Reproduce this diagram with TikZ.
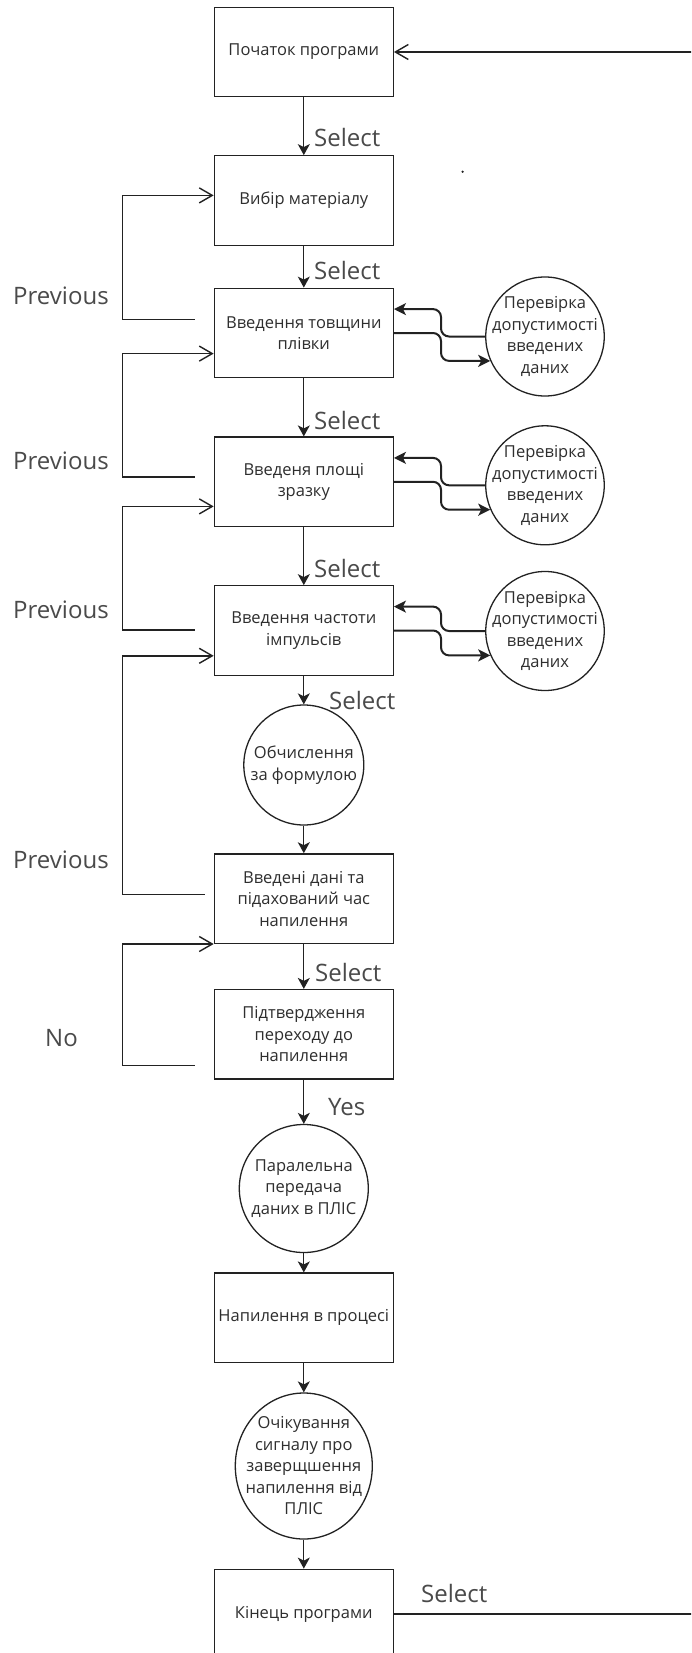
\documentclass[tikz,border=0pt]{standalone}
\usepackage{fontspec}
\setmainfont{Open Sans}
\usetikzlibrary{arrows.meta,calc,shapes.geometric}
\definecolor{ln}{HTML}{222222}
\definecolor{tx}{HTML}{2E2E2E}
\definecolor{lb}{HTML}{4A4A4A}
\begin{document}
\begin{tikzpicture}[x=1pt,y=-1pt,
  box/.style={draw=ln, line width=1.3pt, minimum width=179pt, minimum height=89.5pt,
    inner sep=0pt, align=center, text=tx, font=\fontsize{16.5}{21.5}\selectfont},
  circ/.style={draw=ln, line width=1.3pt, ellipse, inner sep=0pt},
  ctext/.style={align=center, text=tx, font=\fontsize{16.5}{21.5}\selectfont, inner sep=0pt},
  lab/.style={anchor=west, inner sep=0pt, text=lb, font=\fontsize{24}{28}\selectfont},
  flow/.style={draw=ln, line width=1.3pt, -{Stealth[length=11pt,width=12pt,inset=3pt]}},
  loopln/.style={draw=ln, line width=1.4pt},
  looparr/.style={draw=ln, line width=1.4pt, -{Straight Barb[length=13pt,width=15pt]}},
  side/.style={draw=ln, line width=2pt, rounded corners=8pt, -{Stealth[length=12pt,width=12pt,inset=3pt]}}
]
\useasboundingbox (0,0) rectangle (691,1653);
\clip (0,0) rectangle (691,1653);
\fill[white] (0,0) rectangle (691,1653);

% main column
\node[box] (b1) at (303.8,52) {Початок програми};
\node[box] (b2) at (303.8,200.5) {Вибір матеріалу};
\node[box] (b3) at (303.8,333) {Введення товщини\\плівки};
\node[box] (b4) at (303.8,481.8) {Введеня площі\\зразку};
\node[box] (b5) at (303.8,630.5) {Введення частоти\\імпульсів};
\node[circ, minimum width=120pt, minimum height=120pt,
  label={[ctext]center:Обчислення\\за формулою}] (c1) at (303.8,765) {};
\node[box] (b6) at (303.8,898.6) {Введені дані та\\підахований час\\напилення};
\node[box] (b7) at (303.8,1034.3) {Підтвердження\\переходу до\\напилення};
\node[circ, minimum width=129pt, minimum height=128pt,
  label={[ctext]center:Паралельна\\передача\\даних в ПЛІС}] (c2) at (303.8,1188.5) {};
\node[box] (b8) at (303.8,1317.8) {Напилення в процесі};
\node[circ, minimum width=137pt, minimum height=146pt,
  label={[ctext]center:Очікування\\сигналу про\\заверщшення\\напилення від\\ПЛІС}] (c3) at (303.8,1466) {};
\node[box] (b9) at (303.8,1614) {Кінець програми};

% check ellipses
\node[circ, minimum width=118.5pt, minimum height=119pt,
  label={[ctext]center:Перевірка\\допустимості\\введених\\даних}] (e1) at (545,336.5) {};
\node[circ, minimum width=118.5pt, minimum height=119pt,
  label={[ctext]center:Перевірка\\допустимості\\введених\\даних}] (e2) at (545,485.3) {};
\node[circ, minimum width=118.5pt, minimum height=119pt,
  label={[ctext]center:Перевірка\\допустимості\\введених\\даних}] (e3) at (545,631) {};

% stray dot
\fill[ln] (462.6,171.7) circle (1.3pt);

% vertical flow
\draw[flow] (b1) -- (b2);
\draw[flow] (b2) -- (b3);
\draw[flow] (b3) -- (b4);
\draw[flow] (b4) -- (b5);
\draw[flow] (b5) -- (c1);
\draw[flow] (c1) -- (b6);
\draw[flow] (b6) -- (b7);
\draw[flow] (b7) -- (c2);
\draw[flow] (c2) -- (b8);
\draw[flow] (b8) -- (c3);
\draw[flow] (c3) -- (b9);

% flow labels
\node[lab] (s1) at (314,137.3) {Select};
\node[lab] (s2) at (314,270) {Select};
\node[lab] (s3) at (314,420) {Select};
\node[lab] (s4) at (314,568.3) {Select};
\node[lab] (s5) at (329,700) {Select};
\node[lab] (s6) at (315,972) {Select};
\node[lab] (yes) at (328,1107) {Yes};
\node[lab] (s7) at (421,1593) {Select};

% side checks
\coordinate (vx) at (441,0);
\foreach \b/\e in {b3/e1,b4/e2,b5/e3}{
  \coordinate (\b i) at ([yshift=-21.5pt]\b.north east);
  \coordinate (\e i) at (\e.204);
  \draw[side] (\e.west) -- (\e.west -| vx) -- (\b i -| vx) -- (\b i);
  \draw[side] (\b.east) -- (\b.east -| vx) -- (\e i -| vx) -- (\e i);
}

% left loops
\coordinate (lx) at (122.5,0);
\coordinate (p1) at ([xshift=-19pt,yshift=-31.7pt]b3.north west);
\coordinate (q1) at ([yshift=-40.3pt]b2.north west);
\coordinate (p2) at ([xshift=-19pt,yshift=-40.4pt]b4.north west);
\coordinate (q2) at ([yshift=-66pt]b3.north west);
\coordinate (p3) at ([xshift=-19pt,yshift=-44.7pt]b5.north west);
\coordinate (q3) at ([yshift=-70pt]b4.north west);
\coordinate (p4) at ([xshift=-9pt,yshift=-41.4pt]b6.north west);
\coordinate (q4) at ([yshift=-70.7pt]b5.north west);
\coordinate (p5) at ([xshift=-19pt,yshift=-76.7pt]b7.north west);
\coordinate (q5) at (b6.south west);
\foreach \i in {1,...,5}{
  \draw[looparr] (p\i) -- (p\i -| lx) -- (q\i -| lx) -- (q\i);
}
\node[lab] (pr1) at (13,295.7) {Previous};
\node[lab] (pr2) at (13,461) {Previous};
\node[lab] (pr3) at (13,610) {Previous};
\node[lab] (pr4) at (13,860) {Previous};
\node[lab] (no) at (45,1038) {No};

% return loop (leaves the picture on the right)
\coordinate (redge) at (693,0);
\draw[looparr] (b1.east -| redge) -- (b1.east);
\draw[loopln] (b9.east) -- (b9.east -| redge);
\end{tikzpicture}
\end{document}
